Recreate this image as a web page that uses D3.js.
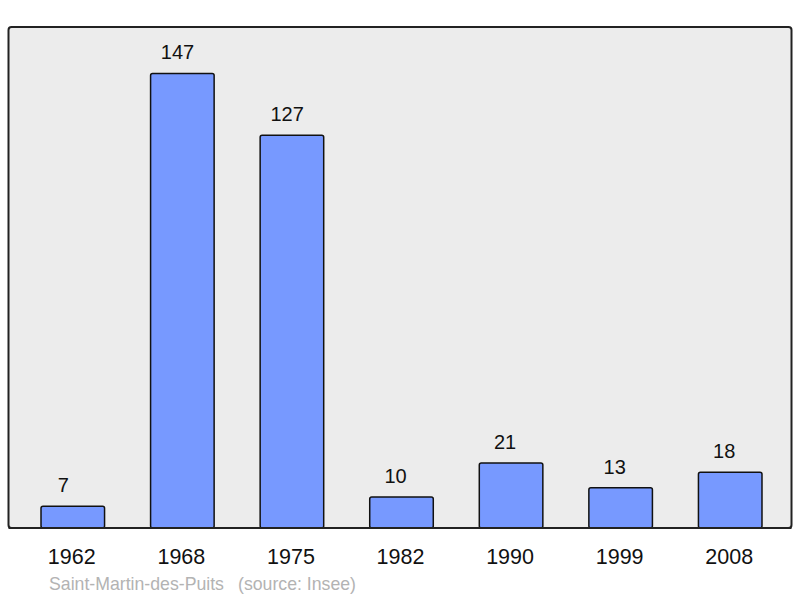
<!DOCTYPE html>
<html>
<head>
<meta charset="utf-8">
<script src="https://cdn.jsdelivr.net/npm/d3@7"></script>
<style>
  body { margin: 0; background: #fff; }
  text { font-family: "Liberation Sans", Arial, sans-serif; }
</style>
</head>
<body>
<svg id="chart" width="800" height="598"></svg>
<script>
const years = ["1962", "1968", "1975", "1982", "1990", "1999", "2008"];
const population = [7, 147, 127, 10, 21, 13, 18];
const commune = "Saint-Martin-des-Puits";
const source = "(source: Insee)";

const svg = d3.select("#chart");

// plot frame
svg.append("rect")
  .attr("x", 8.5).attr("y", 27)
  .attr("width", 783).attr("height", 501)
  .attr("rx", 3)
  .attr("fill", "#ececec")
  .attr("stroke", "#222")
  .attr("stroke-width", 2);

const x = d3.scaleBand()
  .domain(years)
  .range([18, 785])
  .paddingInner(0.42)
  .paddingOuter(0.21);

const y = d3.scaleLinear()
  .domain([0, 162])
  .range([528, 27]);

const data = years.map((yr, i) => ({ year: yr, value: population[i] }));

svg.selectAll("rect.bar")
  .data(data)
  .enter().append("rect")
  .attr("class", "bar")
  .attr("x", d => x(d.year))
  .attr("y", d => y(d.value))
  .attr("width", x.bandwidth())
  .attr("height", d => y(0) - y(d.value))
  .attr("rx", 2)
  .attr("fill", "#7799ff")
  .attr("stroke", "#111")
  .attr("stroke-width", 1.5);

// redraw bottom edge so bars sit on the frame line
svg.append("line")
  .attr("x1", 8.5).attr("x2", 791.5)
  .attr("y1", 528).attr("y2", 528)
  .attr("stroke", "#222").attr("stroke-width", 2);

// value labels sit a bit left of the bar centre in the original
svg.selectAll("text.val")
  .data(data)
  .enter().append("text")
  .attr("class", "val")
  .attr("x", d => x(d.year) + x.bandwidth() / 2 - 2.5 - 7 / String(d.value).length)
  .attr("y", d => y(d.value) - 14)
  .attr("text-anchor", "middle")
  .attr("font-size", 20)
  .attr("fill", "#111")
  .text(d => d.value);

const axis = d3.axisBottom(x).tickSize(0).tickPadding(0);
const gx = svg.append("g")
  .attr("transform", "translate(0,564)")
  .call(axis);
gx.select(".domain").remove();
gx.selectAll("text")
  .attr("dy", 0)
  .attr("dx", -1)
  .attr("font-size", 21.5)
  .attr("font-family", "'Liberation Sans', Arial, sans-serif")
  .attr("fill", "#111");

svg.append("text")
  .attr("x", 49).attr("y", 590)
  .attr("font-size", 17.7)
  .attr("fill", "#b3b3b3")
  .text(commune);

svg.append("text")
  .attr("x", 238).attr("y", 590)
  .attr("font-size", 17.7)
  .attr("fill", "#b3b3b3")
  .text(source);
</script>
</body>
</html>
